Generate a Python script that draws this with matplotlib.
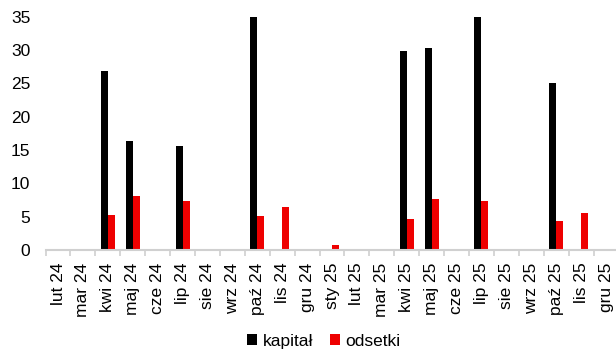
import matplotlib
matplotlib.use("Agg")
import matplotlib.pyplot as plt
import numpy as np

categories = ["lut 24", "mar 24", "kwi 24", "maj 24", "cze 24", "lip 24", "sie 24", "wrz 24",
              "paź 24", "lis 24", "gru 24", "sty 25", "lut 25", "mar 25", "kwi 25", "maj 25",
              "cze 25", "lip 25", "sie 25", "wrz 25", "paź 25", "lis 25", "gru 25"]
kapital = [0, 0, 26.9, 16.4, 0, 15.6, 0, 0, 37.0, 0, 0, 0, 0, 0, 29.9, 30.4, 0, 37.0, 0, 0, 25.1, 0, 0]
odsetki = [0, 0, 5.3, 8.1, 0, 7.4, 0, 0, 5.1, 6.5, 0, 0.7, 0, 0, 4.7, 7.7, 0, 7.4, 0, 0, 4.4, 5.6, 0]
series_names = ["kapitał", "odsetki"]
yticks = [0, 5, 10, 15, 20, 25, 30, 35]

plt.rcParams['font.family'] = ['Liberation Sans', 'DejaVu Sans']
FS = 12.5

fig = plt.figure(figsize=(6.16, 3.52), dpi=100)
ax = fig.add_axes([0.074, 0.29, 0.93, 0.662])

x = np.arange(len(categories))
w = 0.28
ax.bar(x - w/2, kapital, width=w, color="black", label=series_names[0])
ax.bar(x + w/2, odsetki, width=w, color="#ee0000", label=series_names[1])

ax.set_xlim(-0.5, len(categories) - 0.5)
ax.set_ylim(0, 35)
ax.set_yticks(yticks)
ax.tick_params(axis='y', length=0, labelsize=FS, pad=11)

ax.set_xticks(x)
ax.set_xticklabels(categories, rotation=90, fontsize=FS)
ax.set_xticks(np.arange(-0.5, len(categories), 1), minor=True)
ax.tick_params(axis='x', which='major', length=0, pad=9)
ax.tick_params(axis='x', which='minor', length=4, color="#d0d0d0", width=1.2)

for s in ["top", "right", "left"]:
    ax.spines[s].set_visible(False)
ax.spines["bottom"].set_color("#d0d0d0")
ax.spines["bottom"].set_linewidth(1.5)

fig.legend(loc="center", bbox_to_anchor=(0.526, 0.03), ncol=2, frameon=False,
           fontsize=FS, handlelength=0.57, handleheight=0.57, handletextpad=0.3,
           columnspacing=1.0, borderpad=0, borderaxespad=0)

fig.savefig("out.png", dpi=100)
